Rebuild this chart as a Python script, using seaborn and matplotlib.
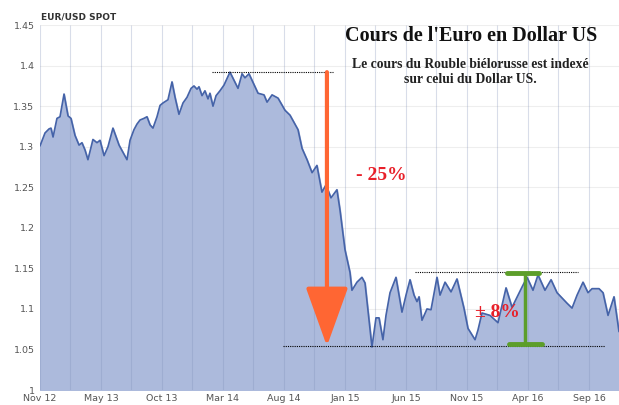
import numpy as np
import pandas as pd
import seaborn as sns
import matplotlib.pyplot as plt

# EUR/USD spot, months counted from Nov 2012
months = [0, 0.41, 0.74, 0.9, 1.07, 1.39, 1.64, 1.97, 2.30, 2.54, 2.87, 3.2, 3.44, 3.69, 3.93,
          4.34, 4.67, 4.92, 5.25, 5.57, 5.98, 6.48, 7.13, 7.38, 7.70, 7.95, 8.20, 8.52, 8.77,
          9.02, 9.26, 9.59, 9.84, 10.08, 10.49, 10.82, 11.07, 11.39, 11.72, 12.05, 12.38, 12.62,
          12.87, 13.03, 13.28, 13.52, 13.77, 13.93, 14.18, 14.43, 14.75, 15.08, 15.57, 15.90,
          16.23, 16.56, 16.80, 17.13, 17.38, 17.87, 18.36, 18.61, 19.02, 19.51, 20.08, 20.49,
          21.15, 21.48, 21.89, 22.30, 22.70, 23.11, 23.44, 23.85, 24.34, 24.59, 25.0, 25.41,
          25.57, 25.98, 26.39, 26.64, 26.97, 27.21, 27.54, 27.79, 28.11, 28.36, 28.69, 29.18,
          29.67, 30.0, 30.33, 30.66, 30.90, 31.07, 31.31, 31.72, 32.05, 32.54, 32.79, 33.20,
          33.69, 34.18, 34.75, 35.08, 35.66, 35.90, 36.23, 36.89, 37.54, 38.20, 38.69, 39.51,
          39.92, 40.41, 40.82, 41.39, 41.89, 42.38, 43.20, 43.61, 44.02, 44.51, 44.92, 45.25,
          45.82, 46.15, 46.56, 47.05, 47.46]
rate = [1.301, 1.317, 1.322, 1.323, 1.312, 1.335, 1.337, 1.365, 1.338, 1.335, 1.314, 1.302, 1.305,
        1.296, 1.284, 1.309, 1.305, 1.308, 1.289, 1.300, 1.323, 1.302, 1.284, 1.308, 1.321, 1.328,
        1.333, 1.335, 1.337, 1.327, 1.323, 1.337, 1.351, 1.354, 1.358, 1.380, 1.361, 1.340, 1.354,
        1.361, 1.372, 1.375, 1.371, 1.374, 1.363, 1.369, 1.359, 1.366, 1.350, 1.363, 1.369, 1.376,
        1.392, 1.382, 1.372, 1.390, 1.385, 1.390, 1.382, 1.366, 1.364, 1.355, 1.364, 1.360, 1.345,
        1.339, 1.321, 1.298, 1.284, 1.268, 1.277, 1.244, 1.253, 1.237, 1.247, 1.222, 1.173, 1.145,
        1.123, 1.133, 1.139, 1.132, 1.086, 1.053, 1.089, 1.089, 1.062, 1.092, 1.120, 1.139, 1.096,
        1.117, 1.136, 1.117, 1.109, 1.115, 1.086, 1.100, 1.099, 1.139, 1.117, 1.133, 1.121, 1.137,
        1.101, 1.076, 1.062, 1.074, 1.095, 1.092, 1.083, 1.126, 1.102, 1.127, 1.139, 1.123, 1.142,
        1.123, 1.136, 1.120, 1.107, 1.101, 1.117, 1.133, 1.120, 1.125, 1.125, 1.120, 1.092, 1.115,
        1.072]

tick_pos = [0, 5, 10, 15, 20, 25, 30, 35, 40, 45]
tick_labels = ['Nov 12', 'May 13', 'Oct 13', 'Mar 14', 'Aug 14', 'Jan 15', 'Jun 15', 'Nov 15',
               'Apr 16', 'Sep 16']
y_ticks = [1, 1.05, 1.1, 1.15, 1.2, 1.25, 1.3, 1.35, 1.4, 1.45]
y_labels = ['1', '1.05', '1.1', '1.15', '1.2', '1.25', '1.3', '1.35', '1.4', '1.45']

df = pd.DataFrame({'month': months, 'rate': rate})

sns.set_style('white')
fig = plt.figure(figsize=(6.19, 4.05), dpi=100)
ax = fig.add_axes([0.0646, 0.037, 0.9354, 0.901])

ax.fill_between(df['month'], 1.0, df['rate'], color='#acbadc', zorder=1)
sns.lineplot(data=df, x='month', y='rate', ax=ax, color='#4563a8', linewidth=1.2, zorder=3)

ax.set_xlim(0, 47.46)
ax.set_ylim(1.0, 1.45)
ax.set_xticks(tick_pos)
ax.set_xticklabels(tick_labels)
ax.set_yticks(y_ticks)
ax.set_yticklabels(y_labels)
ax.tick_params(axis='both', which='both', length=0, labelsize=6.8, labelcolor='#555555')
ax.tick_params(axis='x', pad=3)
ax.tick_params(axis='y', pad=4)
ax.set_axisbelow(True)
ax.grid(axis='y', color='#eeeeee', linewidth=0.8)
ax.grid(axis='x', visible=False)
# vertical grid shows through the area fill
ax.vlines(np.arange(0, 47.46, 2.5), 1.0, 1.45, color='#8090b8', alpha=0.3, linewidth=0.8, zorder=2)
for s in ax.spines.values():
    s.set_visible(False)
ax.set_xlabel('')
ax.set_ylabel('')

fig.text(0.066, 0.958, 'EUR/USD SPOT', fontsize=6.5, fontweight='bold', color='#333333',
         va='center', ha='left')

serif = ['Liberation Serif', 'DejaVu Serif']
ax.text(35.3, 1.436, "Cours de l'Euro en Dollar US", family=serif, fontsize=14.5,
        fontweight='bold', ha='center', va='center', color='#111111', zorder=5)
ax.text(35.3, 1.392, "Le cours du Rouble biélorusse est indexé\nsur celui du Dollar US.",
        family=serif, fontsize=9.8, fontweight='bold', ha='center', va='center',
        color='#222222', linespacing=1.2, zorder=5)

# reference levels
ax.plot([14.10, 24.02], [1.392, 1.392], color='black', linestyle=(0, (1, 1)), linewidth=0.8, zorder=4)
ax.plot([19.92, 46.31], [1.054, 1.054], color='black', linestyle=(0, (1, 1)), linewidth=0.8, zorder=4)
ax.plot([30.74, 44.10], [1.1455, 1.1455], color='black', linestyle=(0, (1, 1)), linewidth=0.8, zorder=4)

# drop arrow
ax.annotate('', xy=(23.52, 1.054), xytext=(23.52, 1.392),
            arrowprops=dict(arrowstyle='-|>,head_length=37,head_width=13.3', mutation_scale=1,
                            color='#ff6633', lw=3, shrinkA=0, shrinkB=0), zorder=6)
ax.text(27.95, 1.265, '- 25%', family=serif, fontsize=14, fontweight='bold', color='#e8202a',
        ha='center', va='center', zorder=6)

# range bar
green = '#5c9e2a'
ax.plot([39.75, 39.75], [1.144, 1.057], color=green, linewidth=2.5, zorder=6)
ax.plot([38.28, 40.9], [1.144, 1.144], color=green, linewidth=3.5, zorder=6)
ax.plot([38.44, 41.15], [1.057, 1.057], color=green, linewidth=3.5, zorder=6)
ax.text(37.46, 1.095, '± 8%', family=serif, fontsize=14, fontweight='bold', color='#e8202a',
        ha='center', va='center', zorder=7)

fig.savefig('out.png', dpi=100)
